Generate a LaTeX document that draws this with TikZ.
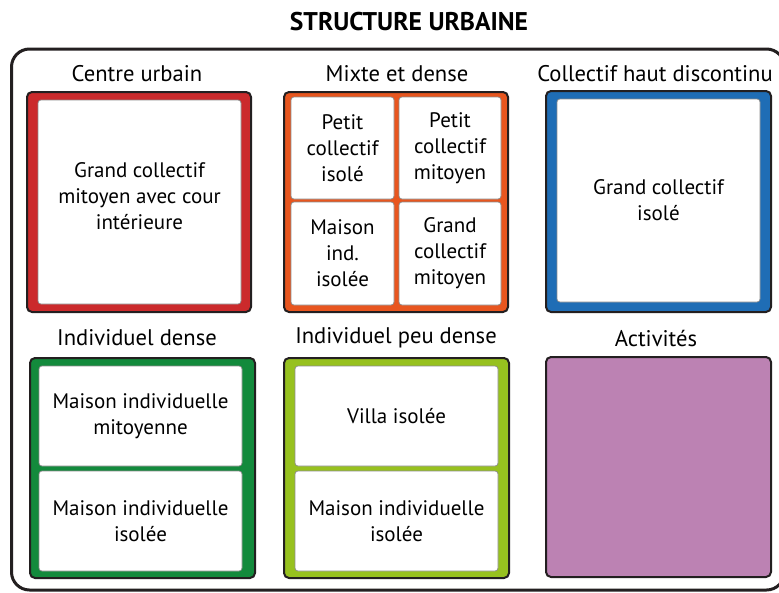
\documentclass[tikz,border=0pt]{standalone}
\usepackage{fontspec}
\setmainfont{PT Sans}
\definecolor{frame}{HTML}{231F20}
\definecolor{cred}{HTML}{CB2A2C}
\definecolor{corange}{HTML}{E8561F}
\definecolor{cblue}{HTML}{1F6DB5}
\definecolor{cgreen}{HTML}{138A3C}
\definecolor{clime}{HTML}{97C11F}
\definecolor{cpurple}{HTML}{BC82B3}
\tikzset{
  group/.style={draw=frame, line width=2pt, rounded corners=5pt, inner sep=0pt, outer sep=0pt},
  cell/.style={draw=black!45, fill=white, line width=0.7pt, rounded corners=3pt, inner sep=0pt, outer sep=0pt,
    align=center, font=\fontsize{21}{26}\selectfont, text=black},
  heading/.style={font=\fontsize{22.6}{26}\selectfont, text=black, inner sep=0pt},
  titlestyle/.style={font=\bfseries\fontsize{25.6}{28}\selectfont, text=black, inner sep=0pt}
}
\begin{document}
\begin{tikzpicture}[x=1pt,y=-1pt]
\useasboundingbox (0,0) rectangle (779,592);
\node[titlestyle] (title) at (409,22) {STRUCTURE URBAINE};
\node[draw=frame, line width=3pt, rounded corners=18pt, minimum width=773pt, minimum height=541pt, inner sep=0pt] (outer) at (398,319.5) {};

% headings
\node[heading] (h1) at (137,74) {Centre urbain};
\node[heading] (h2) at (397,74) {Mixte et dense};
\node[heading] (h3) at (655,74) {Collectif haut discontinu};
\node[heading] (h4) at (137,338) {Individuel dense};
\node[heading] (h5) at (396,338) {Individuel peu dense};
\node[heading] (h6) at (656,338) {Activités};

% Centre urbain
\node[group, fill=cred, minimum width=224pt, minimum height=220pt] (g1) at (139,202) {};
\node[cell, minimum width=203pt, minimum height=204pt] (c1) at (139.5,202) {};
\node[align=center, font=\fontsize{21}{26}\selectfont, text=black] (t1) at (139.5,196) {Grand collectif\\mitoyen avec cour\\intérieure};

% Mixte et dense
\node[group, fill=corange, minimum width=224pt, minimum height=220pt] (g2) at (396,202) {};
\node[cell, minimum width=103pt, minimum height=102pt] (c21) at (342.5,148) {Petit\\collectif\\isolé};
\node[cell, minimum width=102pt, minimum height=102pt] (c22) at (450,148) {Petit\\collectif\\mitoyen};
\node[cell, minimum width=103pt, minimum height=103pt] (c23) at (342.5,253.5) {Maison\\ind.\\isolée};
\node[cell, minimum width=102pt, minimum height=103pt] (c24) at (450,253.5) {Grand\\collectif\\mitoyen};

% Collectif haut discontinu
\node[group, fill=cblue, minimum width=225pt, minimum height=221pt] (g3) at (658.5,201.5) {};
\node[cell, minimum width=203pt, minimum height=203pt] (c3) at (658.5,200.5) {Grand collectif\\isolé};

% Individuel dense
\node[group, fill=cgreen, minimum width=225pt, minimum height=220pt] (g4) at (142.5,468) {};
\node[cell, minimum width=203pt, minimum height=100pt] (c41) at (140.5,416) {Maison individuelle\\mitoyenne};
\node[cell, minimum width=203pt, minimum height=100pt] (c42) at (140.5,521) {Maison individuelle\\isolée};

% Individuel peu dense
\node[group, fill=clime, minimum width=225pt, minimum height=220pt] (g5) at (396.5,468) {};
\node[cell, minimum width=203pt, minimum height=100pt] (c51) at (396.5,416) {Villa isolée};
\node[cell, minimum width=203pt, minimum height=100pt] (c52) at (396.5,521) {Maison individuelle\\isolée};

% Activités
\node[group, fill=cpurple, minimum width=225pt, minimum height=220pt] (g6) at (658.5,467) {};
\end{tikzpicture}
\end{document}
